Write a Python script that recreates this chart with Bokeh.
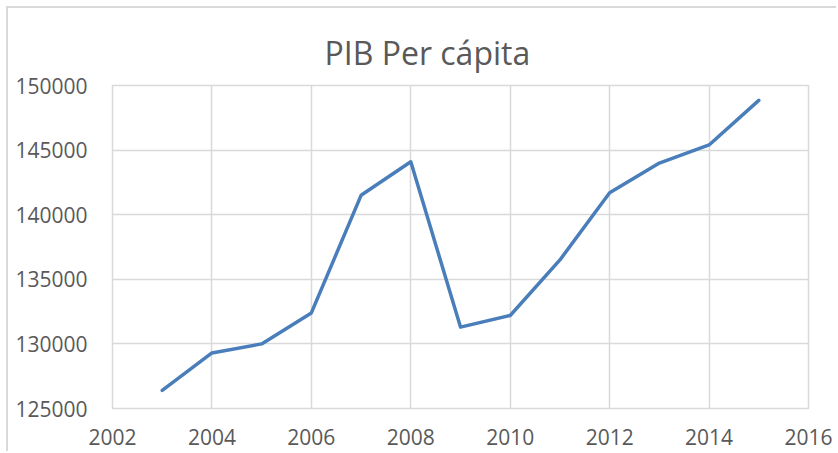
from bokeh.plotting import figure
from bokeh.models import Range1d, FixedTicker, BasicTickFormatter
from bokeh.embed import file_html
from bokeh.resources import INLINE

years = [2003, 2004, 2005, 2006, 2007, 2008, 2009, 2010, 2011, 2012, 2013, 2014, 2015]
pib = [126400, 129300, 130000, 132400, 141500, 144100, 131300, 132200, 136500, 141700, 144000, 145400, 148850]
x_ticks = [2002, 2004, 2006, 2008, 2010, 2012, 2014, 2016]
y_ticks = [125000, 130000, 135000, 140000, 145000, 150000]

FONT = "Open Sans"
TXT = "#595959"
GRID = "#d9d9d9"

p = figure(width=830, height=445, output_backend="svg", toolbar_location=None,
           x_range=Range1d(2002, 2016), y_range=Range1d(125000, 150000),
           min_border_left=104, min_border_right=30, min_border_top=77, min_border_bottom=45)
p.styles = {"margin-left": "6px", "margin-top": "6px",
            "border-left": "2px solid #d9d9d9", "border-top": "2px solid #d9d9d9"}

p.title.text = "PIB Per cápita"
p.title.text_font = FONT
p.title.text_font_size = "32px"
p.title.text_font_style = "normal"
p.title.text_color = TXT
p.title.align = "left"
p.title.offset = 212
p.title.standoff = 23

p.line(years, pib, line_color="#4A7EBB", line_width=3.5, line_join="round", line_cap="round")

for ax in (p.xaxis[0], p.yaxis[0]):
    ax.axis_line_color = None
    ax.major_tick_line_color = None
    ax.minor_tick_line_color = None
    ax.major_tick_out = 0
    ax.major_tick_in = 0
    ax.minor_tick_out = 0
    ax.major_label_text_font = FONT
    ax.major_label_text_font_size = "21px"
    ax.major_label_text_color = TXT

p.xaxis[0].ticker = FixedTicker(ticks=x_ticks)
p.yaxis[0].ticker = FixedTicker(ticks=y_ticks)
p.yaxis[0].formatter = BasicTickFormatter(use_scientific=False)
p.xaxis[0].major_label_standoff = 20
p.yaxis[0].major_label_standoff = 25

p.xgrid.grid_line_color = GRID
p.ygrid.grid_line_color = GRID
p.xgrid.grid_line_width = 1.5
p.ygrid.grid_line_width = 1.5
p.outline_line_color = GRID
p.outline_line_width = 1.5
p.background_fill_color = "white"
p.border_fill_color = "white"

open("out.html", "w").write(file_html(p, INLINE))
